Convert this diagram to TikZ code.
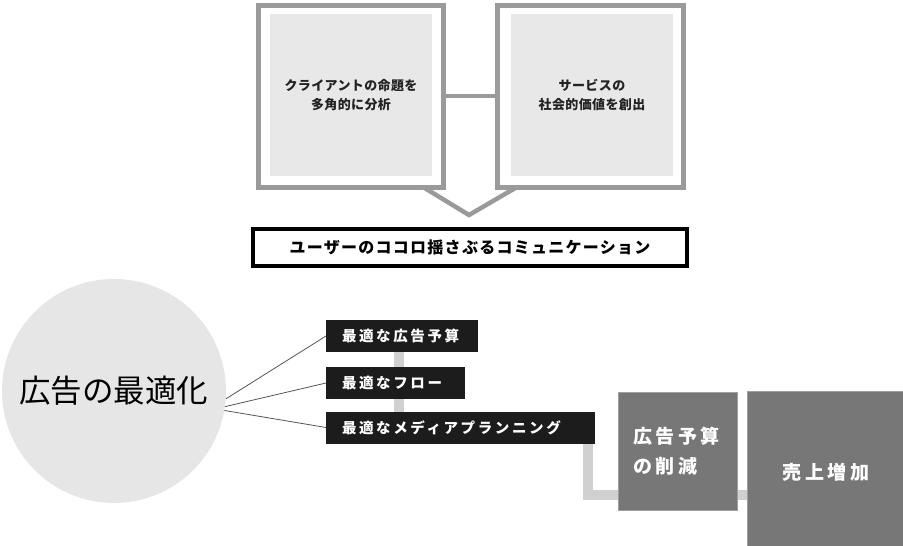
\documentclass[tikz,border=0pt]{standalone}
\usepackage{fontspec}
\setmainfont{Noto Sans CJK JP}
\newfontfamily\jp{Noto Sans CJK JP}
\usetikzlibrary{backgrounds}
\definecolor{framegray}{HTML}{9A9A9A}
\definecolor{panelgray}{HTML}{E8E8E8}
\definecolor{circgray}{HTML}{E6E6E6}
\definecolor{labelblack}{HTML}{1C1C1C}
\definecolor{bargray}{HTML}{D0D0D0}
\definecolor{boxgray}{HTML}{777777}
\definecolor{boxedge}{HTML}{A0A0A0}
\definecolor{textdark}{HTML}{222222}
\definecolor{spokegray}{HTML}{555555}
\tikzset{
  frame/.style={draw=framegray, line width=5pt, fill=white, outer sep=0pt, inner sep=0pt,
    minimum height=182pt},
  framelink/.style={draw=framegray, line width=4pt},
  panel/.style={fill=panelgray, inner sep=0pt, minimum width=162pt, minimum height=162pt,
    align=center, text=textdark,
    font=\jp\bfseries\fontsize{13}{19}\selectfont\addfontfeatures{LetterSpace=3}},
  banner/.style={draw=black, line width=4pt, fill=white, inner sep=0pt, outer sep=0pt,
    minimum width=434pt, minimum height=37pt,
    font=\jp\bfseries\fontsize{16}{16}\selectfont\addfontfeatures{LetterSpace=8}},
  bubble/.style={circle, fill=circgray, inner sep=0pt, minimum size=224pt, text=black,
    font=\jp\fontsize{31.5}{31.5}\selectfont},
  lab/.style={fill=labelblack, text=white, anchor=west, minimum height=32pt,
    inner xsep=16pt, inner ysep=0pt, outer sep=0pt, align=left,
    font=\jp\bfseries\fontsize{14.5}{14.5}\selectfont\addfontfeatures{LetterSpace=18}},
  darkbox/.style={fill=boxgray, draw=boxedge, line width=0.8pt, text=white, outer sep=0pt,
    inner ysep=0pt,
    font=\jp\bfseries\fontsize{19}{30}\selectfont\addfontfeatures{LetterSpace=19}},
  spoke/.style={draw=spokegray, line width=0.8pt},
  bar/.style={draw=bargray, line width=10pt},
}
\begin{document}
\begin{tikzpicture}[x=1pt,y=-1pt]
\useasboundingbox (0,0) rectangle (903,546);

% top frames
\node[frame, minimum width=185pt] (frameL) at (350.5,96) {};
\node[frame, minimum width=186pt] (frameR) at (590,96) {};
\node[panel] (panelL) at (351,95) {クライアントの命題を\\多角的に分析};
\node[panel] (panelR) at (592,95) {サービスの\\社会的価値を創出};
\draw[framelink] (frameL.east) -- (frameR.west);

% V arrow
\coordinate (apex) at (469,215);
\draw[draw=framegray, line width=4.5pt, line join=miter]
  ([xshift=165pt]frameL.south west) -- (apex) -- ([xshift=20pt]frameR.south west);

% banner
\node[banner] (banner) at (470,247.5) {ユーザーのココロ揺さぶるコミュニケーション};

% circle
\node[bubble] (circ) at (114,391) {広告の最適化};

% labels
\node[lab, text width=120pt] (lab1) at (326,336) {最適な広告予算};
\node[lab, text width=107pt] (lab2) at (326,383) {最適なフロー};
\node[lab, text width=237pt] (lab3) at (326,427.5) {最適なメディアプランニング};

\draw[spoke] (circ.-4) -- (lab1.west);
\draw[spoke] (circ.-8) -- (lab2.west);
\draw[spoke] (circ.-10.5) -- (lab3.west);

% result boxes
\node[darkbox, minimum width=119pt, minimum height=118pt, text width=89pt,
  inner xsep=15pt, align=left] (cut) at (677.5,451) {広告予算\\の削減};
\node[darkbox, minimum width=158pt, minimum height=162pt, align=center]
  (sales) at (826,472) {売上増加};
\coordinate (barR) at ([yshift=15pt]cut.south east);

% bars behind
\begin{scope}[on background layer]
\draw[bar] ([xshift=73pt]lab1.west) -- ([xshift=73pt]lab3.west);
\draw[bar] ([xshift=-7pt]lab3.east) |- ([yshift=15pt]cut.south west);
\draw[bar] (barR) -- (barR -| sales.west);
\end{scope}
\end{tikzpicture}
\end{document}
